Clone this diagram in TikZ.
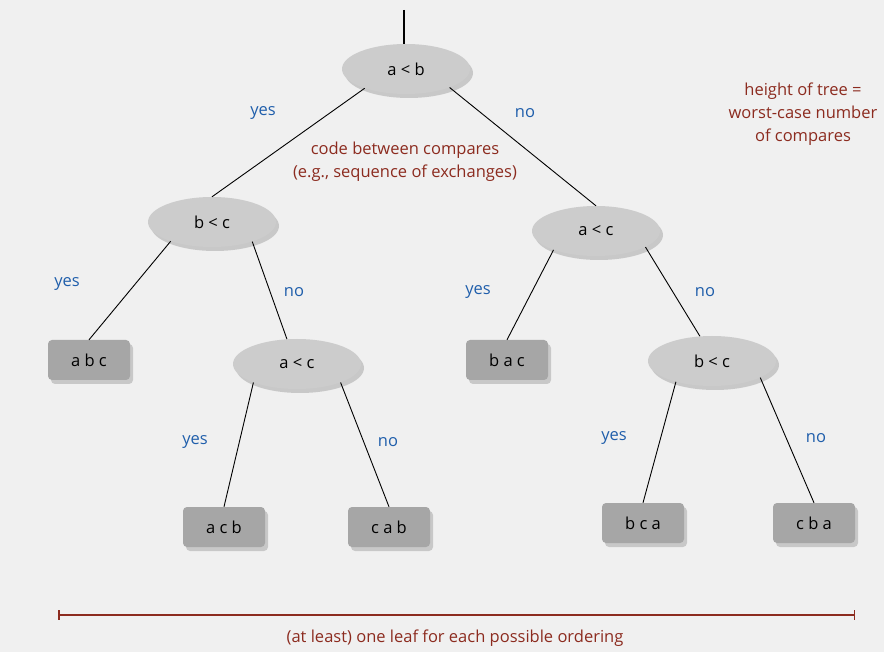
\documentclass[tikz,border=0pt]{standalone}
\usepackage{fontspec}
\setmainfont{Open Sans}
\usepackage{tikz}
\usetikzlibrary{shapes.geometric}
\usetikzlibrary{shadows}
\usetikzlibrary{calc}
\usepackage{xcolor}
\definecolor{myBlue}{rgb}{0.12,0.37,0.67}
\definecolor{myRed}{rgb}{0.55,0.17,0.12}
\definecolor{myBack}{rgb}{0.94,0.94,0.94}
\definecolor{myNode}{rgb}{0.80,0.80,0.80}
\definecolor{myLeaf}{rgb}{0.65,0.65,0.65}
\tikzset{
  compare/.style={
    ellipse, fill=myNode, minimum width=128pt, minimum height=50pt, inner sep=0pt,
    drop shadow={shadow xshift=3pt, shadow yshift=-4pt, opacity=0.35}
  },
  leaf/.style={
    rectangle, rounded corners=4pt, fill=myLeaf, minimum width=82pt, minimum height=40pt,
    inner sep=0pt,
    drop shadow={shadow xshift=3pt, shadow yshift=-4pt, opacity=0.35}
  },
  branch/.style={draw=black, line width=0.9pt},
  answer/.style={text=myBlue},
  remark/.style={text=myRed, align=center}
}

\begin{document}
\begin{tikzpicture}[x=1pt, y=-1pt, font=\fontsize{16.5}{23}\selectfont]

%%%%%%%%%%%%%%%%%%%%%%%%%%%%%%%%%%%%%%%%%%%%%%%%%%%%%%%%%%%%%% Setup
\fill[myBack] (0,0) rectangle (884,652);
\useasboundingbox (0,0) rectangle (884,652);
\coordinate (top) at (404,10);

%%%%%%%%%%%%%%%%%%%%%%%%%%%%%%%%%%%%%%%%%%%%%%%%%%%%%%%%%%%%%% Edges (drawn first)
\coordinate (ab) at (404,69);
\draw[branch, line width=1.4pt] (top) -- (ab);

%%%%%%%%%%%%%%%%%%%%%%%%%%%%%%%%%%%%%%%%%%%%%%%%%%%%%%%%%%%%%% Compares
\node[compare] (ab) at (406,69) {a < b};
\node[compare] (bcL) at (212,222) {b < c};
\node[compare] (acR) at (596,231) {a < c};
\node[compare] (acL) at (297,364) {a < c};
\node[compare] (bcR) at (712,361) {b < c};

%%%%%%%%%%%%%%%%%%%%%%%%%%%%%%%%%%%%%%%%%%%%%%%%%%%%%%%%%%%%%% Leaves
\node[leaf] (abc) at (89,360) {a b c};
\node[leaf] (bac) at (507,360) {b a c};
\node[leaf] (acb) at (224,527) {a c b};
\node[leaf] (cab) at (389,527) {c a b};
\node[leaf] (bca) at (643,523) {b c a};
\node[leaf] (cba) at (814,523) {c b a};

%%%%%%%%%%%%%%%%%%%%%%%%%%%%%%%%%%%%%%%%%%%%%%%%%%%%%%%%%%%%%% Edges
\draw[branch] (ab.-155) -- (bcL.north);
\draw[branch] (ab.-23) -- (acR.north);
\draw[branch] (bcL.-155) -- (abc.north);
\draw[branch] (bcL.-26) -- (acL.112);
\draw[branch] (acR.-156) -- (bac.north);
\draw[branch] (acR.-18) -- (bcR.116);
\draw[branch] (acL.-157) -- (acb.north);
\draw[branch] (acL.-23) -- (cab.north);
\draw[branch] (bcR.-150) -- (bca.north);
\draw[branch] (bcR.-19) -- (cba.north);

% yes / no
\node[answer] (y1) at (263,113) {yes};
\node[answer] (n1) at (525,113) {no};
\node[answer] (y2) at (67,284) {yes};
\node[answer] (n2) at (294,292) {no};
\node[answer] (y3) at (478,292) {yes};
\node[answer] (n3) at (705,292) {no};
\node[answer] (y4) at (195,442) {yes};
\node[answer] (n4) at (388,442) {no};
\node[answer] (y5) at (614,438) {yes};
\node[answer] (n5) at (816,438) {no};

%%%%%%%%%%%%%%%%%%%%%%%%%%%%%%%%%%%%%%%%%%%%%%%%%%%%%%%%%%%%%% Remarks
\node[remark] (code) at (405,161.5) {code between compares\\(e.g., sequence of exchanges)};
\node[remark] (height) at (803,114) {height of tree =\\worst-case number\\of compares};

\coordinate (left) at (58,615);
\coordinate (right) at (855,615);
\draw[myRed, line width=1.5pt, |-|] (left) -- (right);
\node[remark] (leaves) at (455,638) {(at least) one leaf for each possible ordering};

\end{tikzpicture}
\end{document}
